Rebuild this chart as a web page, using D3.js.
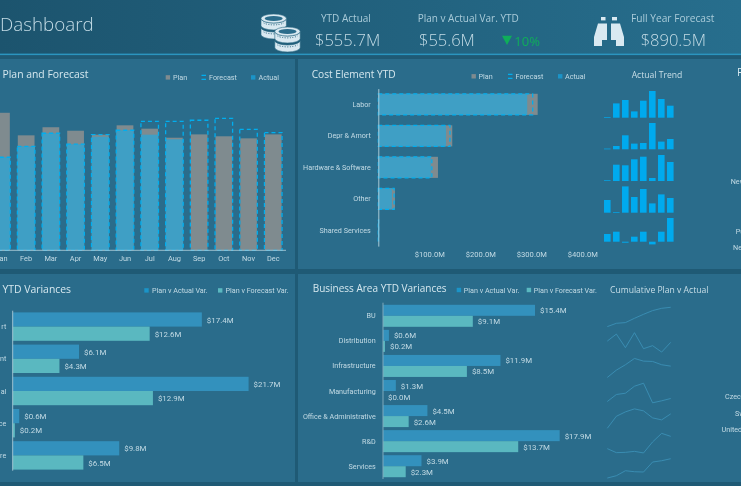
<!DOCTYPE html>
<html>
<head>
<meta charset="utf-8">
<script src="https://cdn.jsdelivr.net/npm/d3@7"></script>
<style>
  html, body { margin: 0; padding: 0; background: #1f5a75; overflow: hidden; }
  svg { display: block; filter: blur(0.3px); }
  text { font-family: Roboto, "Open Sans", sans-serif; fill: #cfe3ec; }
</style>
</head>
<body>
<svg id="chart" width="741" height="486"></svg>
<script>
// month chart ($M)
var months = ["Jan","Feb","Mar","Apr","May","Jun","Jul","Aug","Sep","Oct","Nov","Dec"];
var monthPlan = [86.6,72.4,77.5,75.3,72.8,78.7,76.6,70.9,73.0,71.8,70.5,73.0];
var monthForecast = [58.6,65.5,73.7,66.8,72.8,75.6,81.2,81.2,81.9,83.1,76.2,74.1];
var monthActual = [58.6,65.5,73.7,66.8,71.5,75.6,72.8,69.9];

// cost element ($M)
var costNames = ["Labor","Depr & Amort","Hardware & Software","Other","Shared Services"];
var costPlan = [312.5,145,117,32.7,0.8];
var costForecast = [302.7,140.5,105,31,0.6];
var costActual = [292,132.7,103,26.7,0.4];
var costTicks = [100,200,300,400];

// actual trend, one row per cost element
var trendMonths = ["Jan","Feb","Mar","Apr","May","Jun","Jul","Aug"];
var trendLabor = [0.7,14.3,17.7,6.3,17,26.7,18.7,12];
var trendDepr = [0.7,3.3,14,5.7,6.3,26.3,7.7,10.3];
var trendHardware = [0.7,16.3,15.7,21.7,24.3,3,26,19];
var trendOther = [12.7,0.7,26.3,15.7,23.7,9.3,18.3,14.7];
var trendShared = [7.7,10,-1,5,10,-2.7,10,23.7];

// left variances, names are cut by the page edge
var varNames = ["rt","nt","al","ce","re"];
var varActual = [17.4,6.1,21.7,0.6,9.8];
var varForecast = [12.6,4.3,12.9,0.2,6.5];

// business area variances
var areaNames = ["BU","Distribution","Infrastructure","Manufacturing","Office & Administrative","R&D","Services"];
var areaActual = [15.4,0.6,11.9,1.3,4.5,17.9,3.9];
var areaForecast = [9.1,0.2,8.5,0.0,2.6,13.7,2.3];

// cumulative plan v actual sparklines
var cumBU = [1.7,5,5.7,10,14,17.7,20,21];
var cumDistribution = [12.3,19.3,5.7,20.7,4.7,7.7,1.3,11];
var cumInfrastructure = [1,8.3,13.7,20,17.3,17,13.7,12.3];
var cumManufacturing = [2,9,10.3,17.3,20.3,0.7,2.7,5];
var cumOffice = [0.3,12.3,16.7,19.7,17.7,10.7,8.7,14.7];
var cumRD = [5,1,1.3,2.3,0.7,11.7,20.3,17.3];
var cumServices = [0.7,3,8,7,6.7,16.7,18,20];

var kpiLabels = ["YTD Actual","Plan v Actual Var. YTD","Full Year Forecast"];
var kpiValues = ["$555.7M","$55.6M","$890.5M"];

var cPlan = "#7f8b8f", cActual = "#3f9fc5", cDash = "#00aeef", cBar = "#00aaee";
var cVarA = "#3391bd", cVarF = "#5ab8c0", cIcon = "#d9e9f1";

var svg = d3.select("#chart");

var defs = svg.append("defs");
var grad = defs.append("linearGradient").attr("id", "headerBg");
grad.append("stop").attr("offset", "0").attr("stop-color", "#1c546e");
grad.append("stop").attr("offset", "1").attr("stop-color", "#276e8d");

// background and panels
svg.append("rect").attr("width", 741).attr("height", 486).attr("fill", "#1f5a75");
svg.append("rect").attr("width", 741).attr("height", 54).attr("fill", "url(#headerBg)");
svg.append("rect").attr("y", 53.6).attr("width", 741).attr("height", 1.5).attr("fill", "#2b95bf");
[[0,59,295,210],[298,59,443,210],[0,274,295,208],[298,274,443,208]].forEach(function(p){
  svg.append("rect").attr("x", p[0]).attr("y", p[1]).attr("width", p[2]).attr("height", p[3]).attr("fill", "#2a6c8b");
});

function label(x, y, txt, size, anchor, color, weight)
{
  return svg.append("text").attr("x", x).attr("y", y).text(txt)
    .style("font-size", size + "px")
    .style("font-family", size >= 8.5 ? "'Open Sans', sans-serif" : "Roboto, sans-serif")
    .style("text-anchor", anchor || "start")
    .style("fill", color || "#cfe3ec")
    .style("font-weight", weight || 400);
}

// header
label(0, 31, "Dashboard", 18.8, "start", "#c4dce6", 300);
label(321, 21.5, kpiLabels[0], 10, "start", "#a9cbd9");
label(315, 46, kpiValues[0], 16.5, "start", "#c4dce6", 300);
label(417.7, 21.5, kpiLabels[1], 10, "start", "#a9cbd9");
label(419, 46, kpiValues[1], 16.5, "start", "#c4dce6", 300);
label(631, 21.5, kpiLabels[2], 10.2, "start", "#a9cbd9");
label(640.7, 46, kpiValues[2], 16.5, "start", "#c4dce6", 300);
svg.append("path").attr("d", "M502,35.7 L512,35.7 L507,45 Z").attr("fill", "#0fae5a");
label(514.3, 45.5, "10%", 13, "start", "#0fae5a", 400);

// coins icon
function coin(cx, cy)
{
  [9, 0].forEach(function(dy){
    svg.append("path")
      .attr("d", "M" + (cx-12.7) + "," + (cy+dy) + " v7 a12.7,4.5 0 0 0 25.4,0 v-7 a12.7,4.5 0 0 1 -25.4,0 Z")
      .attr("fill", cIcon).attr("stroke", "#25647f").attr("stroke-width", 0.6);
    svg.append("path")
      .attr("d", "M" + (cx-10) + "," + (cy+dy+4.5) + " a12,4.2 0 0 0 20,0")
      .attr("fill", "none").attr("stroke", "#25647f").attr("stroke-width", 1).attr("stroke-dasharray", "1,1.5");
  });
  svg.append("ellipse").attr("cx", cx).attr("cy", cy).attr("rx", 12.7).attr("ry", 4.5)
    .attr("fill", cIcon).attr("stroke", "#25647f").attr("stroke-width", 0.6);
  svg.append("ellipse").attr("cx", cx).attr("cy", cy).attr("rx", 9).attr("ry", 2.6).attr("fill", "#2a6c8b");
}
coin(273.7, 18.5);
coin(287.5, 31.5);

// binoculars icon
svg.append("path").attr("d", "M594,46 L594,37 L598,23.5 L607,23.5 L607,40 L602,40 L602,46 Z M624,46 L624,37 L620,23.5 L611,23.5 L611,40 L616,40 L616,46 Z").attr("fill", cIcon);
svg.append("rect").attr("x", 601).attr("y", 17).attr("width", 4.5).attr("height", 3.4).attr("fill", cIcon);
svg.append("rect").attr("x", 612).attr("y", 17).attr("width", 5).attr("height", 3.4).attr("fill", cIcon);

function legendItem(x, y, txt, color, textX, dashed)
{
  if(dashed)
  {
    svg.append("path").attr("d", "M" + (x+4.5) + "," + (y-2) + " H" + x + " M" + x + "," + (y+2) + " H" + (x+4.5))
      .attr("stroke", color).attr("stroke-width", 1.2).attr("fill", "none");
  }
  else
  {
    svg.append("rect").attr("x", x).attr("y", y-2.2).attr("width", 4.4).attr("height", 4.4).attr("fill", color);
  }
  label(textX, y + 2.6, txt, 7.2, "start", "#c3dbe5");
}

// Plan and Forecast
label(2.5, 78, "Plan and Forecast", 10.4, "start", "#d6e8ef");
legendItem(165.7, 77.4, "Plan", cPlan, 173);
legendItem(201.5, 77.4, "Forecast", cDash, 209, true);
legendItem(251, 77.4, "Actual", "#1b94c8", 258.5);

var xMonth = d3.scaleBand().domain(months).range([-10.9, 285.6]).paddingInner(0.29).paddingOuter(0.145);
var yMonth = d3.scaleLinear().domain([0, 100]).range([250.3, 91.5]);

svg.selectAll(".mPlan").data(monthPlan).enter().append("rect")
  .attr("x", function(d, i){ return xMonth(months[i]) + 0.4; })
  .attr("width", xMonth.bandwidth() - 0.8)
  .attr("y", function(d){ return yMonth(d); })
  .attr("height", function(d){ return yMonth(0) - yMonth(d); })
  .attr("fill", cPlan);
svg.selectAll(".mActual").data(monthActual).enter().append("rect")
  .attr("x", function(d, i){ return xMonth(months[i]); })
  .attr("width", xMonth.bandwidth())
  .attr("y", function(d){ return yMonth(d); })
  .attr("height", function(d){ return yMonth(0) - yMonth(d); })
  .attr("fill", cActual);
svg.selectAll(".mFore").data(monthForecast).enter().append("rect")
  .attr("x", function(d, i){ return xMonth(months[i]); })
  .attr("width", xMonth.bandwidth())
  .attr("y", function(d){ return yMonth(d); })
  .attr("height", function(d){ return yMonth(0) - yMonth(d); })
  .attr("fill", "none").attr("stroke", cDash).attr("stroke-width", 1.3).attr("stroke-dasharray", "4,3");

var monthAxis = svg.append("g").attr("transform", "translate(0,250.3)").call(d3.axisBottom(xMonth).tickSize(0).tickPadding(5));
monthAxis.select(".domain").remove();
monthAxis.selectAll("text").style("font-size", "7.4px").style("fill", "#c3dbe5");
svg.append("line").attr("x1", 0).attr("x2", 286).attr("y1", 250.3).attr("y2", 250.3).attr("stroke", "#a9c9d6").attr("stroke-width", 0.9);

// Cost Element YTD
label(311.7, 78, "Cost Element YTD", 10.2, "start", "#d6e8ef");
legendItem(471.5, 76.3, "Plan", cPlan, 478.5);
legendItem(508, 76.3, "Forecast", cDash, 515.5, true);
legendItem(558, 76.3, "Actual", "#1b94c8", 565);

var xCost = d3.scaleLinear().domain([0, 400]).range([378.3, 582.3]);
var yCost = d3.scaleBand().domain(costNames).range([88.6, 246.1]).paddingInner(0.33).paddingOuter(0.165);

svg.selectAll(".cPlan").data(costPlan).enter().append("rect")
  .attr("x", xCost(0))
  .attr("y", function(d, i){ return yCost(costNames[i]); })
  .attr("width", function(d){ return xCost(d) - xCost(0); })
  .attr("height", yCost.bandwidth())
  .attr("fill", cPlan);
svg.selectAll(".cActual").data(costActual).enter().append("rect")
  .attr("x", xCost(0))
  .attr("y", function(d, i){ return yCost(costNames[i]); })
  .attr("width", function(d){ return xCost(d) - xCost(0); })
  .attr("height", yCost.bandwidth())
  .attr("fill", cActual);
svg.selectAll(".cFore").data(costForecast).enter().append("rect")
  .attr("x", xCost(0))
  .attr("y", function(d, i){ return yCost(costNames[i]); })
  .attr("width", function(d){ return xCost(d) - xCost(0); })
  .attr("height", yCost.bandwidth())
  .attr("fill", "none").attr("stroke", cDash).attr("stroke-width", 1.3).attr("stroke-dasharray", "4,3");

var costAxisY = svg.append("g").attr("transform", "translate(378.3,0)").call(d3.axisLeft(yCost).tickSize(0).tickPadding(7.5));
costAxisY.select(".domain").attr("stroke", "#a9c9d6");
costAxisY.selectAll("text").style("font-size", "7.2px").style("fill", "#c3dbe5");
var costAxisX = svg.append("g").attr("transform", "translate(0,247)")
  .call(d3.axisBottom(xCost).tickValues(costTicks).tickSize(0).tickPadding(5).tickFormat(function(d){ return "$" + d3.format(".1f")(d) + "M"; }));
costAxisX.select(".domain").remove();
costAxisX.selectAll("text").style("font-size", "7.6px").style("fill", "#c3dbe5");

// Actual Trend
label(657, 78, "Actual Trend", 8.6, "middle", "#c9dfe8");
var xTrend = d3.scaleBand().domain(trendMonths).range([602.8, 674.8]).paddingInner(0.27).paddingOuter(0.135);
[trendLabor, trendDepr, trendHardware, trendOther, trendShared].forEach(function(row, r){
  var base = [117.7, 149.3, 181, 212.7, 241.7][r];
  var yT = d3.scaleLinear().domain([0, 30]).range([base, base - 30]);
  svg.selectAll(".t" + r).data(row).enter().append("rect")
    .attr("x", function(d, i){ return xTrend(trendMonths[i]); })
    .attr("width", xTrend.bandwidth())
    .attr("y", function(d){ return Math.min(yT(d), yT(0)); })
    .attr("height", function(d){ return Math.abs(yT(0) - yT(d)); })
    .attr("fill", cBar);
});

// horizontal variance bars
function varianceChart(names, actual, forecast, x0, scale, top, step, barH, nameGap)
{
  var xV = d3.scaleLinear().domain([0, 20]).range([x0, x0 + 20 * scale]);
  names.forEach(function(n, i){
    var c = top + i * step;
    svg.append("rect").datum(actual[i]).attr("x", x0).attr("y", c - barH).attr("height", barH)
      .attr("width", function(d){ return xV(d) - x0; }).attr("fill", cVarA);
    svg.append("rect").datum(forecast[i]).attr("x", x0).attr("y", c).attr("height", barH)
      .attr("width", function(d){ return xV(d) - x0; }).attr("fill", cVarF);
    label(xV(actual[i]) + 5, c - barH / 2 + 3, "$" + actual[i].toFixed(1) + "M", 7.9, "start", "#c3dbe5");
    label(xV(forecast[i]) + 5, c + barH / 2 + 3, "$" + forecast[i].toFixed(1) + "M", 7.9, "start", "#c3dbe5");
    label(x0 - nameGap, c + 2.5, n, 7.2, "end", "#c3dbe5");
  });
}

// left variances
label(2.5, 292.5, "YTD Variances", 10.4, "start", "#d6e8ef");
legendItem(144.3, 290.4, "Plan v Actual Var.", "#1b94c8", 152);
legendItem(218, 290.4, "Plan v Forecast Var.", cVarF, 225.5);
varianceChart(varNames, varActual, varForecast, 12.7, 10.87, 326.6, 32.2, 14.2, 6.4);
svg.append("line").attr("x1", 12.7).attr("x2", 12.7).attr("y1", 310.7).attr("y2", 470.7).attr("stroke", "#a9c9d6").attr("stroke-width", 0.9);

// Business Area YTD Variances
label(312.7, 292, "Business Area YTD Variances", 10, "start", "#d6e8ef");
legendItem(456.7, 290, "Plan v Actual Var.", "#1b94c8", 463.7);
legendItem(526.7, 290, "Plan v Forecast Var.", cVarF, 533.7);
varianceChart(areaNames, areaActual, areaForecast, 383, 9.87, 315.8, 25.07, 11, 7.3);
svg.append("line").attr("x1", 383).attr("x2", 383).attr("y1", 302.7).attr("y2", 479).attr("stroke", "#7fa9bb").attr("stroke-width", 1);

// Cumulative Plan v Actual
label(610, 293, "Cumulative Plan v Actual", 8.6, "start", "#c9dfe8");
var xCum = d3.scalePoint().domain(trendMonths).range([607.3, 670.7]);
[cumBU, cumDistribution, cumInfrastructure, cumManufacturing, cumOffice, cumRD, cumServices].forEach(function(row, r){
  var base = 328.3 + r * 25.07;
  var yC = d3.scaleLinear().domain([0, 25]).range([base, base - 25]);
  var line = d3.line()
    .x(function(d, i){ return xCum(trendMonths[i]); })
    .y(function(d){ return yC(d); });
  svg.append("path").datum(row).attr("d", line).attr("fill", "none").attr("stroke", "#3b90b6").attr("stroke-width", 0.9);
});

// right panel, cut by the page edge
label(737, 75.5, "P", 10.4, "start", "#d6e8ef");
label(730.7, 184, "New", 7.2, "start", "#c3dbe5");
label(735.7, 233.5, "Pu", 7.2, "start", "#c3dbe5");
label(733, 250, "Ne", 7.2, "start", "#c3dbe5");
label(725, 398.5, "Czech", 7.2, "start", "#c3dbe5");
label(735, 415.5, "Sw", 7.2, "start", "#c3dbe5");
label(721.5, 432, "United", 7.2, "start", "#c3dbe5");
</script>
</body>
</html>
